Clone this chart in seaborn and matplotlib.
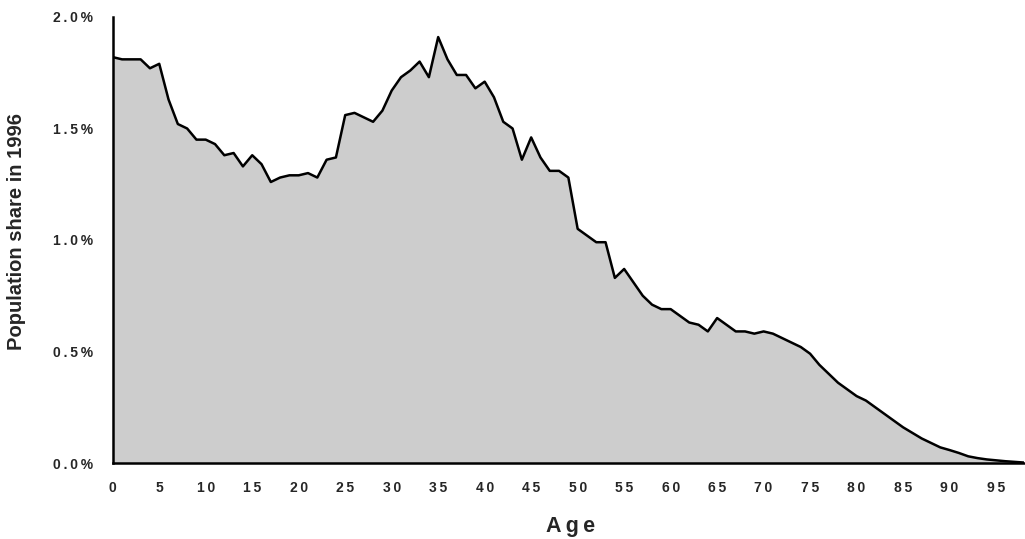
import numpy as np
import pandas as pd
import matplotlib
matplotlib.use("Agg")
import matplotlib.pyplot as plt
import seaborn as sns
from matplotlib.ticker import FuncFormatter

ages = list(range(0, 99))
share = [1.82, 1.81, 1.81, 1.81, 1.77, 1.79, 1.63, 1.52, 1.50, 1.45,
         1.45, 1.43, 1.38, 1.39, 1.33, 1.38, 1.34, 1.26, 1.28, 1.29,
         1.29, 1.30, 1.28, 1.36, 1.37, 1.56, 1.57, 1.55, 1.53, 1.58,
         1.67, 1.73, 1.76, 1.80, 1.73, 1.91, 1.81, 1.74, 1.74, 1.68,
         1.71, 1.64, 1.53, 1.50, 1.36, 1.46, 1.37, 1.31, 1.31, 1.28,
         1.05, 1.02, 0.99, 0.99, 0.83, 0.87, 0.81, 0.75, 0.71, 0.69,
         0.69, 0.66, 0.63, 0.62, 0.59, 0.65, 0.62, 0.59, 0.59, 0.58,
         0.59, 0.58, 0.56, 0.54, 0.52, 0.49, 0.44, 0.40, 0.36, 0.33,
         0.30, 0.28, 0.25, 0.22, 0.19, 0.16, 0.135, 0.11, 0.09, 0.07,
         0.058, 0.045, 0.03, 0.022, 0.016, 0.012, 0.008, 0.005, 0.002]
yticks = [0.0, 0.5, 1.0, 1.5, 2.0]
xticks = list(range(0, 100, 5))

df = pd.DataFrame({"Age": ages, "Share": share})

sns.set_style("white")
plt.rcParams['font.family'] = ['Liberation Sans', 'DejaVu Sans']

TS = "\u2009"

fig = plt.figure(figsize=(10.25, 5.39), dpi=100)
ax = fig.add_axes([0.110, 0.141, 0.889, 0.8275])

ax.fill_between(df["Age"], df["Share"], 0, color="#cdcdcd", linewidth=0, zorder=1)
sns.lineplot(data=df, x="Age", y="Share", ax=ax, color="black", linewidth=1.8, zorder=3)

ax.set_xlim(0, 98)
ax.set_ylim(0, 2.0)
ax.set_yticks(yticks)
ax.set_xticks(xticks)
ax.yaxis.set_major_formatter(FuncFormatter(lambda v, p: TS.join(f"{v:.1f}%")))
ax.xaxis.set_major_formatter(FuncFormatter(lambda v, p: TS.join(f"{int(round(v))}")))
for s in ["top", "right"]:
    ax.spines[s].set_visible(False)
for s in ["left", "bottom"]:
    ax.spines[s].set_color("black")
    ax.spines[s].set_linewidth(1.8)

ax.tick_params(axis="y", direction="in", length=5, width=1.4, color="black",
               labelsize=10, pad=14)
ax.tick_params(axis="x", length=0, labelsize=10, pad=13)
for lab in ax.get_xticklabels() + ax.get_yticklabels():
    lab.set_fontweight("bold")

ax.set_xlabel(TS.join("Age"), fontsize=15.5, fontweight="bold", va="center", ha="center")
ax.xaxis.set_label_coords(0.502, (463 - 526) / 446)
ax.set_ylabel("Population share in 1996", fontsize=14.5, fontweight="bold",
              va="center", ha="center")
ax.yaxis.set_label_coords((17 - 113) / 912, (463 - 232) / 446)

fig.savefig("out.png", dpi=100)
